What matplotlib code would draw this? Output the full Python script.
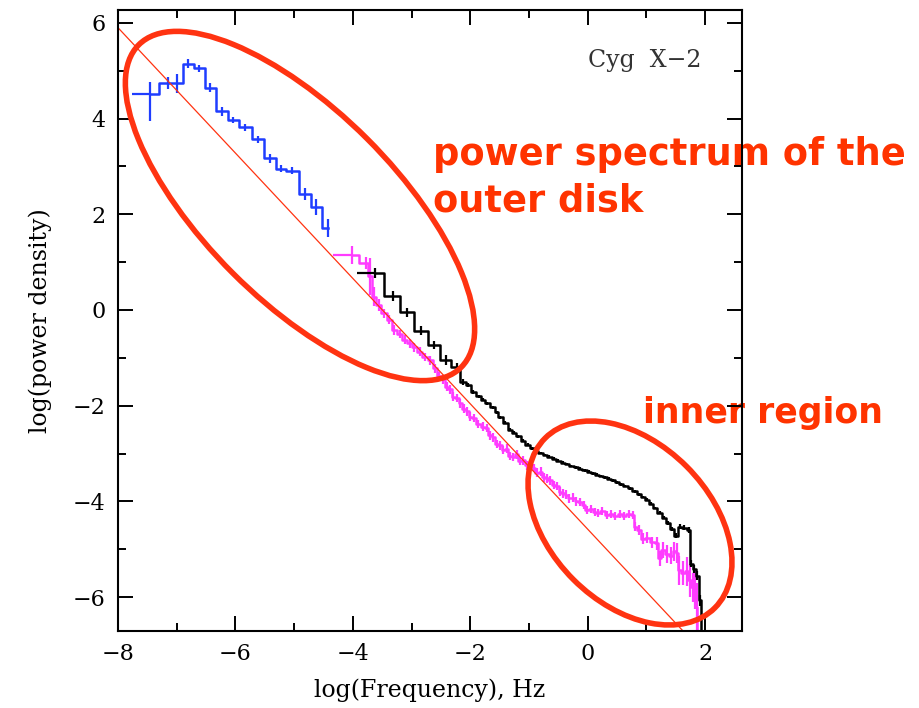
import matplotlib
matplotlib.use('Agg')
import matplotlib.pyplot as plt
import matplotlib.patches as patches
import numpy as np

# outer disk (blue) power spectrum, bin centres in log(Hz)
blue_x = [-7.455, -7.143, -6.99, -6.80, -6.62, -6.43, -6.22, -6.04, -5.84, -5.61,
          -5.41, -5.22, -5.04, -4.81, -4.62, -4.42]
blue_y = [4.52, 4.74, 4.74, 5.15, 5.05, 4.65, 4.15, 3.97, 3.82, 3.57,
          3.17, 2.95, 2.91, 2.42, 2.16, 1.71]
blue_err_lo = [0.56, 0.12, 0.20, 0.09, 0.08, 0.09, 0.09, 0.07, 0.07, 0.07,
               0.09, 0.07, 0.07, 0.12, 0.17, 0.19]
blue_err_hi = [0.24, 0.12, 0.20, 0.09, 0.08, 0.09, 0.09, 0.07, 0.07, 0.07,
               0.09, 0.07, 0.07, 0.12, 0.17, 0.19]

# magenta spectrum
magenta_x = [-4.02, -3.78, -3.71, -3.64, -3.56, -3.47, -3.38, -3.30, -3.20, -3.11,
             -3.03, -2.95, -2.86, -2.77, -2.68, -2.60, -2.54, -2.47, -2.40, -2.34,
             -2.29, -2.22, -2.17, -2.10, -2.05, -2.00, -1.93, -1.86, -1.78, -1.72,
             -1.66, -1.61, -1.55, -1.49, -1.44, -1.38, -1.32, -1.27, -1.21, -1.15,
             -1.10, -1.04, -0.98, -0.92, -0.86, -0.80, -0.74, -0.70, -0.64, -0.58,
             -0.52, -0.47, -0.42, -0.36, -0.31, -0.25, -0.19, -0.13, -0.07, -0.01,
             0.05, 0.12, 0.18, 0.25, 0.33, 0.40, 0.47, 0.55, 0.62, 0.70,
             0.77, 0.80, 0.87, 0.95, 1.02, 1.10, 1.18, 1.23, 1.28, 1.35,
             1.42, 1.48, 1.52, 1.55, 1.62, 1.69, 1.74, 1.79, 1.83, 1.86,
             1.88]
magenta_y = [1.15, 0.98, 0.70, 0.28, 0.10, -0.07, -0.20, -0.42, -0.50, -0.62,
             -0.70, -0.78, -0.87, -0.98, -1.05, -1.22, -1.39, -1.45, -1.60, -1.66,
             -1.81, -1.84, -1.95, -2.06, -2.12, -2.23, -2.26, -2.38, -2.44, -2.47,
             -2.62, -2.66, -2.80, -2.83, -2.93, -2.90, -3.05, -3.07, -3.02, -3.16,
             -3.14, -3.25, -3.28, -3.30, -3.40, -3.38, -3.50, -3.52, -3.56, -3.66,
             -3.68, -3.80, -3.83, -3.86, -3.94, -3.92, -4.00, -4.01, -4.08, -4.18,
             -4.16, -4.22, -4.24, -4.20, -4.29, -4.26, -4.31, -4.27, -4.31, -4.26,
             -4.29, -4.53, -4.60, -4.78, -4.76, -4.86, -4.88, -5.19, -5.02, -5.10,
             -5.14, -5.04, -5.08, -5.44, -5.50, -5.46, -5.65, -5.80, -5.86, -6.20,
             -6.80]
magenta_err = [0.19, 0.12, 0.38, 0.20, 0.12, 0.10, 0.10, 0.10, 0.09, 0.09,
               0.09, 0.09, 0.09, 0.09, 0.09, 0.09, 0.09, 0.09, 0.09, 0.09,
               0.09, 0.09, 0.09, 0.09, 0.09, 0.09, 0.09, 0.09, 0.09, 0.09,
               0.09, 0.09, 0.09, 0.09, 0.09, 0.09, 0.09, 0.09, 0.09, 0.09,
               0.09, 0.09, 0.09, 0.09, 0.09, 0.09, 0.09, 0.09, 0.09, 0.09,
               0.09, 0.09, 0.09, 0.09, 0.09, 0.09, 0.09, 0.09, 0.09, 0.09,
               0.08, 0.08, 0.08, 0.08, 0.08, 0.08, 0.08, 0.08, 0.08, 0.08,
               0.08, 0.10, 0.10, 0.12, 0.12, 0.12, 0.14, 0.16, 0.16, 0.18,
               0.18, 0.20, 0.20, 0.30, 0.25, 0.30, 0.35, 0.30, 0.40, 0.50,
               0.00]

# black spectrum
black_x = [-3.63, -3.31, -3.07, -2.84, -2.61, -2.41, -2.23, -2.12, -2.03, -1.95,
           -1.85, -1.78, -1.72, -1.62, -1.55, -1.49, -1.40, -1.32, -1.25, -1.18,
           -1.10, -1.02, -0.95, -0.88, -0.80, -0.72, -0.65, -0.58, -0.50, -0.42,
           -0.35, -0.28, -0.20, -0.13, -0.05, 0.02, 0.10, 0.16, 0.23, 0.30,
           0.37, 0.43, 0.50, 0.57, 0.64, 0.72, 0.80, 0.87, 0.94, 1.01,
           1.08, 1.15, 1.23, 1.30, 1.37, 1.44, 1.50, 1.57, 1.65, 1.72,
           1.76, 1.82, 1.87, 1.92, 1.96]
black_y = [0.77, 0.29, -0.05, -0.43, -0.73, -1.05, -1.19, -1.50, -1.57, -1.71,
           -1.80, -1.88, -1.95, -2.03, -2.14, -2.24, -2.36, -2.50, -2.57, -2.64,
           -2.73, -2.82, -2.89, -2.95, -2.99, -3.03, -3.07, -3.11, -3.15, -3.19,
           -3.22, -3.26, -3.29, -3.32, -3.35, -3.38, -3.41, -3.44, -3.47, -3.50,
           -3.53, -3.56, -3.60, -3.64, -3.68, -3.73, -3.79, -3.85, -3.91, -3.97,
           -4.05, -4.14, -4.24, -4.34, -4.45, -4.58, -4.72, -4.53, -4.55, -4.60,
           -5.30, -5.42, -5.55, -6.07, -6.80]
black_err = [0.10, 0.10, 0.10, 0.09, 0.09, 0.10, 0.08, 0.06, 0.04, 0.04,
             0.03, 0.03, 0.03, 0.03, 0.03, 0.03, 0.03, 0.03, 0.03, 0.03,
             0.03, 0.03, 0.03, 0.03, 0.03, 0.03, 0.03, 0.03, 0.03, 0.03,
             0.03, 0.03, 0.03, 0.03, 0.03, 0.03, 0.03, 0.03, 0.03, 0.03,
             0.03, 0.03, 0.03, 0.03, 0.03, 0.03, 0.03, 0.03, 0.03, 0.03,
             0.03, 0.03, 0.03, 0.03, 0.04, 0.04, 0.05, 0.05, 0.05, 0.06,
             0.08, 0.08, 0.10, 0.12, 0.00]

# power-law reference line: log P = intercept + slope * log f
line_slope = -1.31
line_intercept = -4.58

BLUE = '#1f3dff'
MAGENTA = '#ff3cff'
RED = '#ff3311'


def draw_spectrum(ax, x, y, err_lo, err_hi, color, first_xerr):
    ax.step(x, y, where='mid', color=color, linewidth=1.8)
    xerr = np.zeros((2, len(x)))
    xerr[:, 0] = first_xerr
    ax.errorbar(x, y, yerr=[err_lo, err_hi], xerr=xerr, fmt='none',
                ecolor=color, elinewidth=1.6, capsize=0)


fig = plt.figure(figsize=(9.2, 7.08), dpi=100)
fig.patch.set_facecolor('white')
ax = fig.add_axes([118 / 920, 1 - 631 / 708, 624 / 920, 621 / 708])
ax.patch.set_alpha(0)

draw_spectrum(ax, blue_x, blue_y, blue_err_lo, blue_err_hi, BLUE, [0.30, 0.0])
draw_spectrum(ax, magenta_x, magenta_y, magenta_err, magenta_err, MAGENTA, [0.31, 0.0])
draw_spectrum(ax, black_x, black_y, black_err, black_err, 'black', [0.30, 0.0])

fx = np.array([-8.0, 2.65])
ax.plot(fx, line_intercept + line_slope * fx, color=RED, linewidth=0.9)

ax.set_xlim(-8, 2.63)
ax.set_ylim(-6.71, 6.27)
ax.set_xticks([-8, -6, -4, -2, 0, 2])
ax.set_xticks(np.arange(-8, 3), minor=True)
ax.set_yticks([-6, -4, -2, 0, 2, 4, 6])
ax.set_yticks(np.arange(-6, 7), minor=True)
ax.tick_params(which='both', direction='in', top=True, right=True, width=1.4)
ax.tick_params(which='major', length=11, labelsize=16, pad=9)
ax.tick_params(which='minor', length=6)
for lab in ax.get_xticklabels() + ax.get_yticklabels():
    lab.set_family('DejaVu Serif')
for sp in ax.spines.values():
    sp.set_linewidth(1.5)

ax.set_xlabel('log(Frequency), Hz', family='DejaVu Serif', fontsize=17, labelpad=9)
ax.set_ylabel('log(power density)', family='DejaVu Serif', fontsize=17, labelpad=15)
ax.text(0.753, 0.908, 'Cyg  X\u22122', transform=ax.transAxes, family='DejaVu Serif',
        fontsize=17, color='#333333', ha='left', va='baseline')

# annotation ellipses, sized in inches so they stay round
outer = patches.Ellipse((3.00, 5.02), 4.56, 1.90, angle=-45, fill=False,
                        edgecolor=RED, linewidth=4, transform=fig.dpi_scale_trans)
inner = patches.Ellipse((6.30, 1.85), 2.40, 1.60, angle=-45, fill=False,
                        edgecolor=RED, linewidth=4, transform=fig.dpi_scale_trans)
fig.add_artist(outer)
fig.add_artist(inner)

note = dict(color='#ff3300', weight='bold', family='DejaVu Sans',
            ha='left', va='baseline', zorder=-1)
fig.text(433 / 920, 1 - 165 / 708, 'power spectrum of the', fontsize=26.5, **note)
fig.text(433 / 920, 1 - 212 / 708, 'outer disk', fontsize=26.5, **note)
fig.text(643 / 920, 1 - 423 / 708, 'inner region', fontsize=25, **note)

fig.savefig('out.png', dpi=100)
